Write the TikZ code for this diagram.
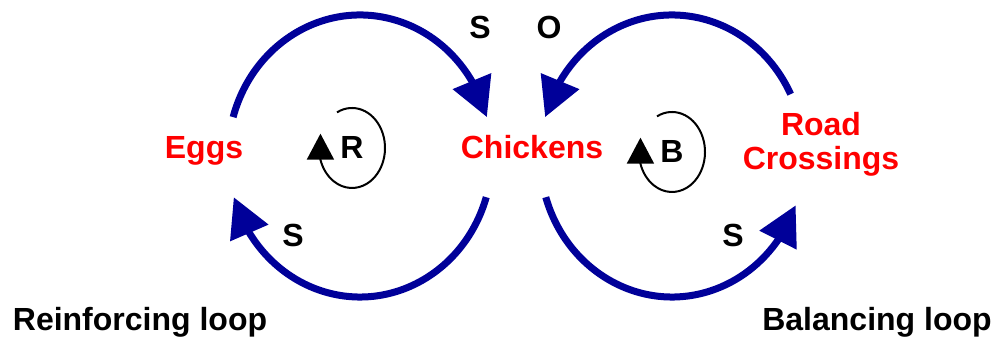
\documentclass[tikz,border=0pt]{standalone}
\usepackage{fontspec}
\setmainfont{Liberation Sans}
\usetikzlibrary{arrows.meta,bending}

\definecolor{linkblue}{RGB}{0,0,153}

\begin{document}
\begin{tikzpicture}[x=0.5pt,y=0.5pt,
		var/.style={text=red,font=\fontsize{16}{17}\selectfont\bfseries,align=center,anchor=base},
		sign/.style={font=\fontsize{16}{17}\selectfont\bfseries},
		caption/.style={font=\fontsize{16}{17}\selectfont\bfseries,anchor=base},
		link/.style={draw=linkblue,line width=3.5pt,-{Triangle[length=19.5pt,width=20pt,flex]}},
		turn/.style={line width=1pt,-{Triangle[length=13pt,width=13.5pt]}}]%[scale=.8]
			\useasboundingbox (0,0) rectangle (994,340);
			% variables
			\node[var]  at (204,181.5)  (e)  {Eggs};
			\node[var]  at (532,181.5)  (c)  {Chickens};
			\node[var]  at (821,170) 	(rx) {Road\\Crossings};
			% centres of the two loops
			\coordinate (lc) at (360,184);
			\coordinate (rl) at (672,184);
			\draw[link] ([shift={(164:132 and 141)}]lc) arc[start angle=164,end angle=16,x radius=132,y radius=141];
			\draw[link] ([shift={(-17:132 and 141)}]lc) arc[start angle=-17,end angle=-163,x radius=132,y radius=141];
			\draw[link] ([shift={(26:132 and 141)}]rl) arc[start angle=26,end angle=164,x radius=132,y radius=141];
			\draw[link] ([shift={(197:132 and 141)}]rl) arc[start angle=197,end angle=339.5,x radius=132,y radius=141];
			% polarities
			\node[sign]  at (480,313)  (s1)  {S};
			\node[sign]  at (549,313)  (o1)  {O};
			\node[sign]  at (293,105)  (s2)  {S};
			\node[sign]  at (733,105)  (s3)  {S};
			% loop markers
			\node[sign]  at (352,192)  (r)  {R};
			\node[sign]  at (672,188)  (b)  {B};
			\draw[turn] ([shift={(117:33 and 40)}]r.center) arc[start angle=117,end angle=-163,x radius=33,y radius=40] -- +(0,26);
			\draw[turn] ([shift={(117:33 and 40)}]b.center) arc[start angle=117,end angle=-163,x radius=33,y radius=40] -- +(0,26);
			\node[caption]  at (140,9.3)  (rt)  {Reinforcing loop};
			\node[caption]  at (877,9.3)  (bt)  {Balancing loop};
		\end{tikzpicture}
\end{document}
